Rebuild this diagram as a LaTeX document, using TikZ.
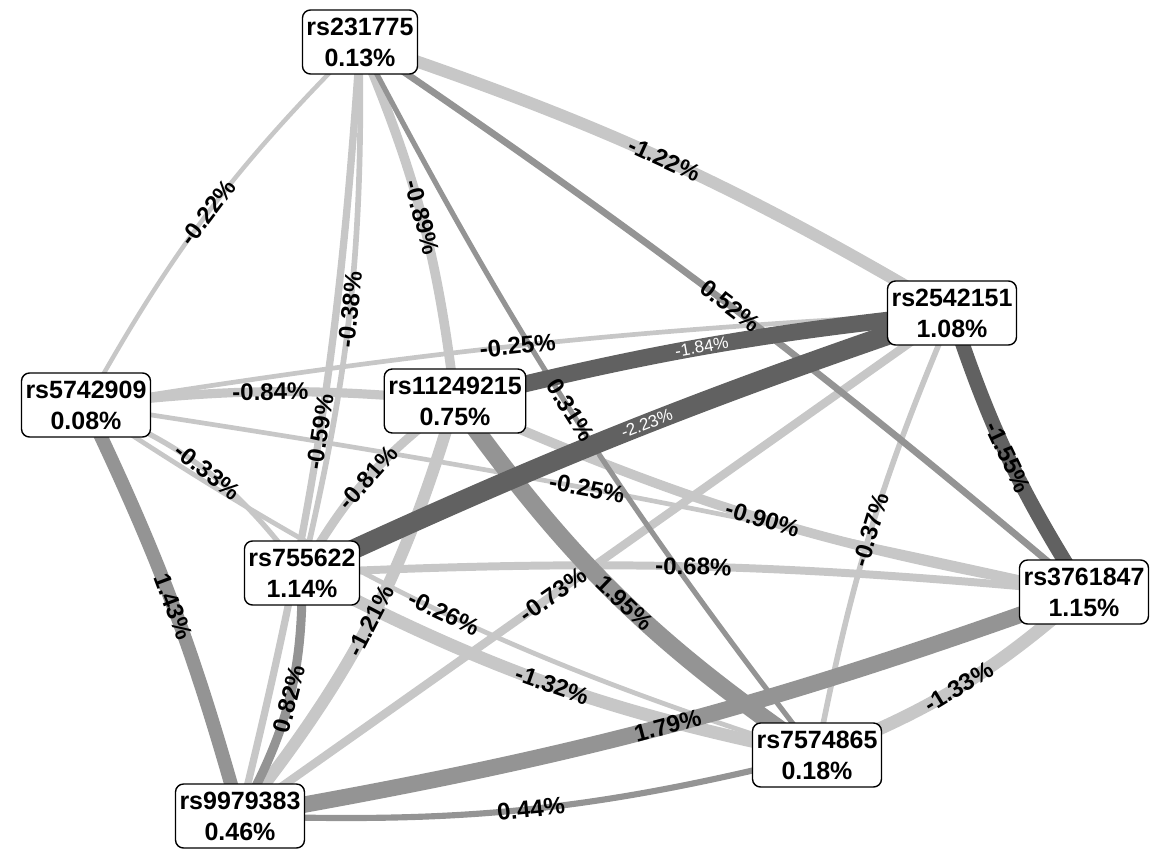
\documentclass[tikz,border=0pt]{standalone}
\usepackage{fontspec}
\setmainfont{Liberation Sans}
\usetikzlibrary{backgrounds}
\tikzset{
    snp/.style={
        draw, fill=white, rounded corners=4pt, line width=0.7pt,
        align=center, inner xsep=2pt, minimum height=32pt,
        font=\fontsize{12.5}{15.5}\selectfont\bfseries
    },
    wt/.style={line width=#1*3.8pt+1.4pt},
    neg link/.style={draw=EdgeNeg},
    pos link/.style={draw=EdgePos},
    strong link/.style={draw=EdgeStrong},
    pct/.style={sloped, inner sep=0.5pt, font=\fontsize{12}{12}\selectfont\bfseries},
    pct white/.style={pct, text=white, font=\fontsize{8.5}{8.5}\selectfont},
}
\colorlet{EdgeNeg}{black!22}
\colorlet{EdgePos}{black!42}
\colorlet{EdgeStrong}{black!62}

% edge below the boxes, its label above all edges
% #1 edge style, #2 from, #3 to, #4 bend, #5 label node
\newcommand{\snplink}[5]{%
    \begin{pgfonlayer}{background}
        \draw[#1] (#2.center) to[#4] (#3.center);
    \end{pgfonlayer}
    \path (#2.center) to[#4] node#5 (#3.center);
}

\begin{document}
\begin{tikzpicture}[x=0.5pt, y=-0.5pt]

    \useasboundingbox (0,0) rectangle (1157,857);

    \node[snp] (rs231775) at (360,42) {rs231775\\0.13\%};
    \node[snp] (rs5742909) at (86,405) {rs5742909\\0.08\%};
    \node[snp] (rs11249215) at (455,401) {rs11249215\\0.75\%};
    \node[snp] (rs2542151) at (952,313) {rs2542151\\1.08\%};
    \node[snp] (rs755622) at (302,573) {rs755622\\1.14\%};
    \node[snp] (rs3761847) at (1084,592) {rs3761847\\1.15\%};
    \node[snp] (rs7574865) at (817,755) {rs7574865\\0.18\%};
    \node[snp] (rs9979383) at (240,816) {rs9979383\\0.46\%};

    % negative interactions
    \snplink{neg link, wt=0.22}{rs231775}{rs5742909}{bend right=8}{[pct] {-0.22\%}}
    \snplink{neg link, wt=0.89}{rs231775}{rs11249215}{bend left=8}{[pct] {-0.89\%}}
    \snplink{neg link, wt=1.22}{rs231775}{rs2542151}{bend left=6}{[pct] {-1.22\%}}
    \snplink{neg link, wt=0.38}{rs231775}{rs755622}{bend left=7}{[pct] {-0.38\%}}
    \snplink{neg link, wt=0.59}{rs231775}{rs9979383}{bend left=5}{[pct] {-0.59\%}}
    \snplink{neg link, wt=0.84}{rs5742909}{rs11249215}{bend left=6}{[pct] {-0.84\%}}
    \snplink{neg link, wt=0.25}{rs5742909}{rs2542151}{bend left=3}{[pct] {-0.25\%}}
    \snplink{neg link, wt=0.33}{rs5742909}{rs755622}{bend left=16}{[pct] {-0.33\%}}
    \snplink{neg link, wt=0.25}{rs5742909}{rs3761847}{bend left=2}{[pct] {-0.25\%}}
    \snplink{neg link, wt=0.26}{rs5742909}{rs7574865}{bend right=8}{[pct, pos=0.51] {-0.26\%}}
    \snplink{neg link, wt=0.81}{rs11249215}{rs755622}{bend right=12}{[pct] {-0.81\%}}
    \snplink{neg link, wt=0.90}{rs11249215}{rs3761847}{bend right=7}{[pct] {-0.90\%}}
    \snplink{neg link, wt=1.21}{rs11249215}{rs9979383}{bend left=11}{[pct] {-1.21\%}}
    \snplink{neg link, wt=0.37}{rs2542151}{rs7574865}{bend right=6}{[pct] {-0.37\%}}
    \snplink{neg link, wt=0.73}{rs9979383}{rs2542151}{}{[pct, pos=0.44] {-0.73\%}}
    \snplink{neg link, wt=0.68}{rs755622}{rs3761847}{bend left=4}{[pct] {-0.68\%}}
    \snplink{neg link, wt=1.32}{rs755622}{rs7574865}{bend right=8}{[pct] {-1.32\%}}
    \snplink{neg link, wt=1.33}{rs7574865}{rs3761847}{bend right=10}{[pct] {-1.33\%}}

    % positive interactions
    \snplink{pos link, wt=0.52}{rs231775}{rs3761847}{bend left=3}{[pct] {0.52\%}}
    \snplink{pos link, wt=0.31}{rs231775}{rs7574865}{bend right=5}{[pct] {0.31\%}}
    \snplink{pos link, wt=1.43}{rs5742909}{rs9979383}{bend left=5}{[pct] {1.43\%}}
    \snplink{pos link, wt=1.95}{rs11249215}{rs7574865}{bend right=10}{[pct, pos=0.52] {1.95\%}}
    \snplink{pos link, wt=0.82}{rs755622}{rs9979383}{bend left=15}{[pct] {0.82\%}}
    \snplink{pos link, wt=1.79}{rs9979383}{rs3761847}{bend right=5}{[pct] {1.79\%}}
    \snplink{pos link, wt=0.44}{rs9979383}{rs7574865}{bend right=8}{[pct] {0.44\%}}

    % strongest ones
    \snplink{strong link, wt=1.84}{rs11249215}{rs2542151}{bend left=4}{[pct white] {-1.84\%}}
    \snplink{strong link, wt=2.23}{rs755622}{rs2542151}{bend left=3}{[pct white, pos=0.54] {-2.23\%}}
    \snplink{strong link, wt=1.55}{rs2542151}{rs3761847}{bend right=7}{[pct] {-1.55\%}}

\end{tikzpicture}
\end{document}
